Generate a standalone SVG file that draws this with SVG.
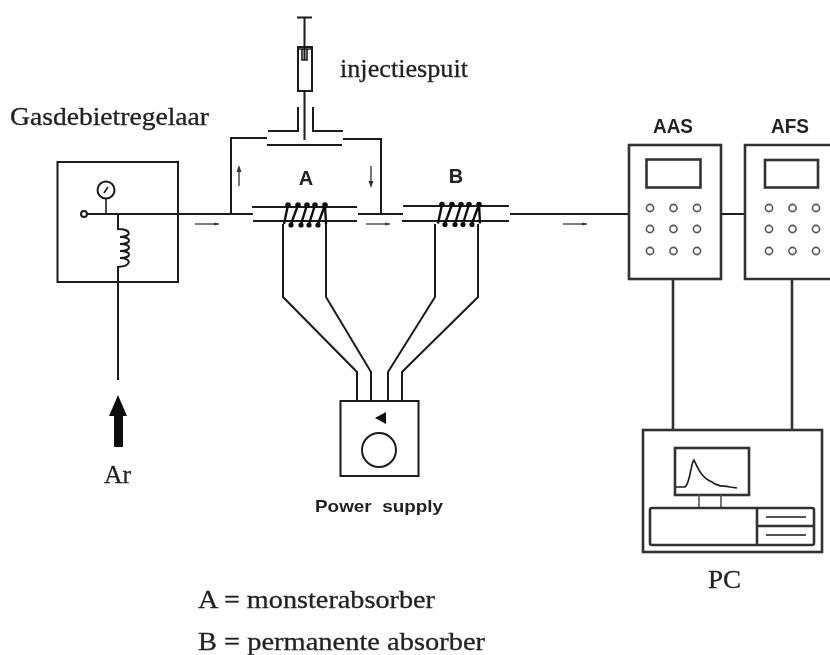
<svg xmlns="http://www.w3.org/2000/svg" width="830" height="655" viewBox="0 0 830 655">
<style>
.l{fill:none;stroke:#1c1c1c;stroke-width:2}
.t{fill:none;stroke:#1c1c1c;stroke-width:1.6}
.b{fill:none;stroke:#333;stroke-width:2.6}
.k{fill:none;stroke:#555;stroke-width:1.6}
.c{fill:none;stroke:#111;stroke-width:2.4}
.s{font-family:"Liberation Serif",serif;font-size:26px;fill:#222;stroke:#222;stroke-width:.3}
.h{font-family:"Liberation Sans",sans-serif;font-weight:bold;fill:#222}
</style>
<defs>
<filter id="soft" x="-5%" y="-5%" width="110%" height="110%"><feGaussianBlur stdDeviation="0.5"/></filter>
<g id="coil"><path class="c" d="M0 19L4 0M7 19L14 0M17 19L23 0M25 19L31 0M34 19L41 0M41 0L42 19"/><g fill="#111"><circle cx="4" cy="0" r="2.800"/><circle cx="14" cy="0" r="2.800"/><circle cx="23" cy="0" r="2.800"/><circle cx="31" cy="0" r="2.800"/><circle cx="41" cy="0" r="2.800"/><circle cx="7" cy="20" r="2.600"/><circle cx="17" cy="20" r="2.600"/><circle cx="25" cy="20" r="2.600"/><circle cx="34" cy="20" r="2.600"/></g></g>
<g id="btns" class="k"><circle cx="0" cy="0" r="3.6"/><circle cx="23.500" cy="0" r="3.6"/><circle cx="47" cy="0" r="3.600"/><circle cx="0" cy="21" r="3.6"/><circle cx="23.500" cy="21" r="3.6"/><circle cx="47" cy="21" r="3.6"/><circle cx="0" cy="43" r="3.6"/><circle cx="23.500" cy="43" r="3.6"/><circle cx="47" cy="43" r="3.6"/></g>
</defs>
<rect width="830" height="655" fill="#fff"/>
<g filter="url(#soft)">
<g id="connectors">
<path class="l" d="M87 214H253M118 282V380"/>
<path class="l" d="M231 214V138H267M343 139H381V214"/>
<path class="l" d="M358 214H403M510 214H628M721 214H745"/>
<path class="l" d="M283 224V297L357 372V400M326 224V297L371 372V400M435 224V297L388 372V400M478 224V297L402 372V400"/>
<path class="b" d="M673 279V430M792 279V430"/>
<path class="k" stroke-width="2" d="M195 224H219M366 224H390M563 224H587"/>
<path class="k" d="M239 186V170M371 166V184"/>
<path d="M239 165l-2.500 7h5zM371 188l-2.500-7h5z" fill="#333"/>
<path d="M219 224l-5-1.500v3zM390 224l-5-1.500v3zM587 224l-5-1.500v3z" fill="#333"/>
<path d="M118 395L127 416H123V447H114V416H109Z" fill="#111"/>
</g>
<g id="regulator">
<rect class="l" x="57.500" y="162" width="120.500" height="120"/>
<circle class="l" cx="106" cy="190" r="8.500"/><path class="t" d="M106 198.500V214M104 193L108 187"/>
<circle class="l" cx="84" cy="214" r="3"/>
<path class="l" d="M118 214V229C132 229 132 237 120 237C132 237 132 244 120 244C132 244 132 251 120 251C132 251 132 258 120 258C132 258 132 266 118 267V282"/>
</g>
<g id="syringe">
<path class="l" d="M297 17.500H312M304.500 17V60M304.500 91V140"/>
<rect class="l" x="298" y="47" width="14" height="44"/>
<path class="t" d="M302 49V60H307V49M298 49H312"/>
<path class="l" d="M298 107V131H268M313 107V131H343M267 145H342"/>
</g>
<g id="absorber-a">
<path class="l" d="M252 207H357M253 221H357"/>
<use href="#coil" x="284" y="205"/>
</g>
<g id="absorber-b">
<path class="l" d="M403 206H509M402 221H509"/>
<use href="#coil" x="438" y="204.500"/>
</g>
<g id="power-supply">
<rect class="l" x="340.500" y="401" width="78" height="75"/>
<path d="M375 418L386 412V424Z" fill="#111"/>
<circle class="l" cx="379" cy="450" r="17"/>
</g>
<g id="aas">
<rect class="b" x="629" y="145" width="92" height="134"/>
<rect class="b" x="646.500" y="159.500" width="54" height="28"/>
<use href="#btns" x="650" y="208"/>
</g>
<g id="afs">
<path class="b" d="M832 145H745V279H832"/>
<rect class="b" x="765" y="160" width="53" height="27.500"/>
<use href="#btns" x="769" y="208"/>
</g>
<g id="pc">
<rect class="b" x="643" y="430" width="179" height="122"/>
<rect class="b" x="675" y="448" width="74" height="47"/>
<path class="t" stroke-width="2" d="M676 487H685C690 484 691 462 694 460C697 466 701 478 712 482C720 488 722 485 730 487L737 488"/>
<path class="k" d="M699 495V508M721 495V508"/>
<rect class="b" x="650" y="508" width="164" height="37" rx="2"/>
<path class="b" d="M757 508V545M757 526H814" stroke-width="2"/>
<path class="t" d="M766 517H806M766 535H806"/>
</g>
<g id="labels">
<text class="s" x="10" y="125" style="font-size:25px" textLength="199" lengthAdjust="spacingAndGlyphs">Gasdebietregelaar</text>
<text class="s" x="340" y="77" textLength="128" lengthAdjust="spacingAndGlyphs">injectiespuit</text>
<text class="h" x="306" y="185" font-size="20" text-anchor="middle">A</text>
<text class="h" x="456" y="183" font-size="20" text-anchor="middle">B</text>
<text class="h" x="653" y="133" font-size="20" textLength="40" lengthAdjust="spacingAndGlyphs">AAS</text>
<text class="h" x="771" y="133" font-size="20" textLength="38" lengthAdjust="spacingAndGlyphs">AFS</text>
<text class="s" x="104" y="483" textLength="27" lengthAdjust="spacingAndGlyphs">Ar</text>
<text class="h" x="315" y="512" font-size="17" textLength="128" lengthAdjust="spacingAndGlyphs" xml:space="preserve">Power  supply</text>
<text class="s" x="708" y="588" textLength="33" lengthAdjust="spacingAndGlyphs">PC</text>
<text class="s" x="198" y="608" textLength="237" lengthAdjust="spacingAndGlyphs">A = monsterabsorber</text>
<text class="s" x="198" y="650" textLength="287" lengthAdjust="spacingAndGlyphs">B = permanente absorber</text>
</g>
</g>
</svg>
